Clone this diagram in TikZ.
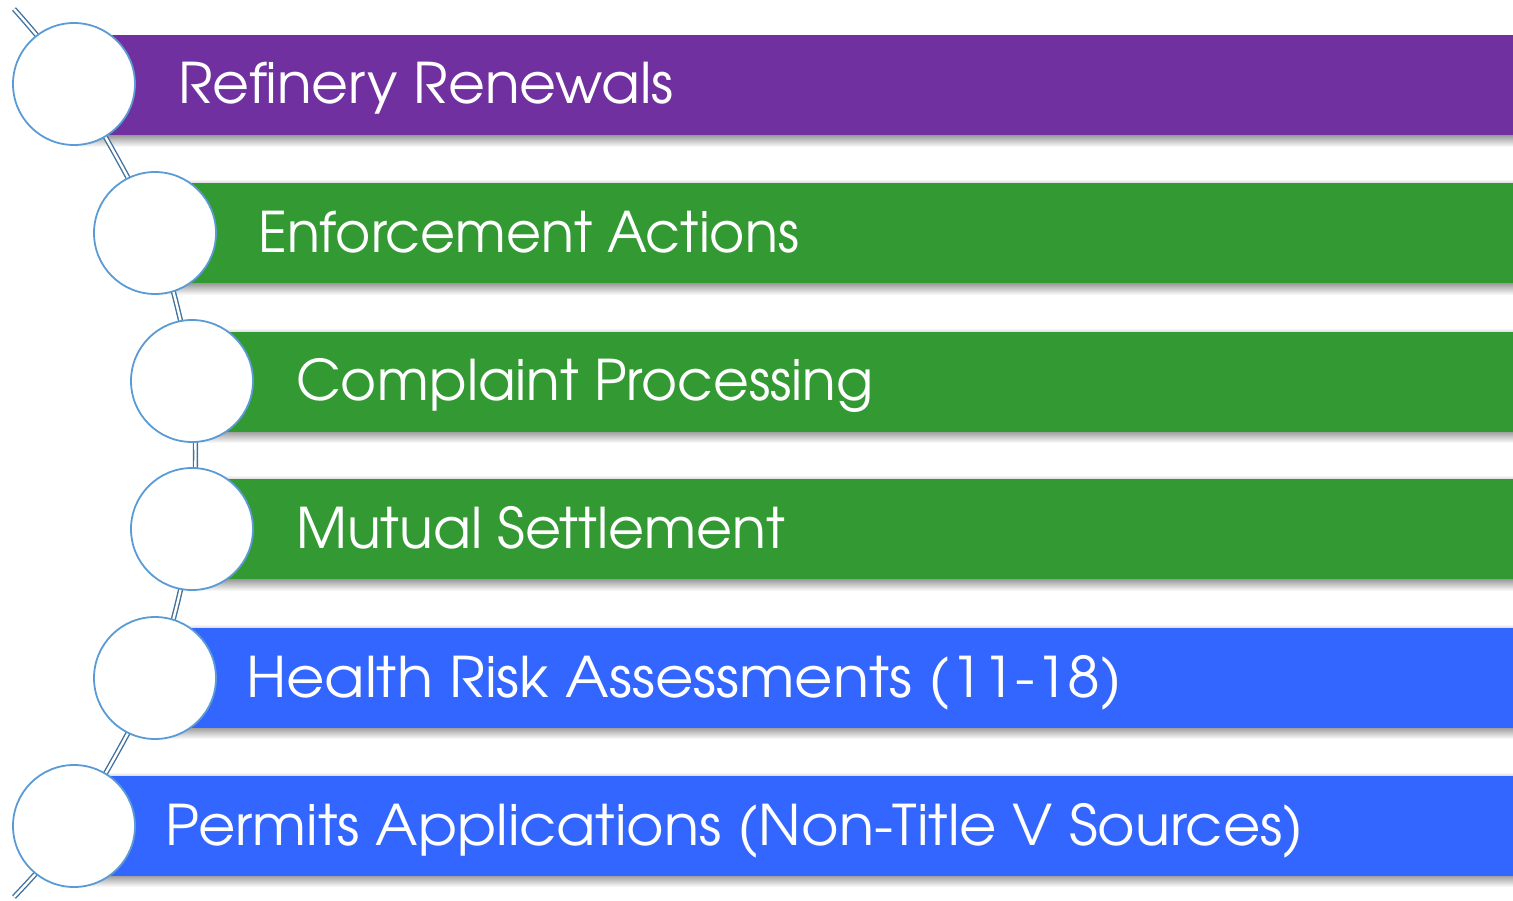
\documentclass[tikz,border=0pt]{standalone}
\usepackage{fontspec}
\setmainfont{texgyreadventor-regular.otf}
\usetikzlibrary{calc}
\definecolor{cpurple}{HTML}{7030A0}
\definecolor{cgreen}{HTML}{339933}
\definecolor{cblue}{HTML}{3366FF}
\definecolor{ccirc}{HTML}{5B9BD5}
\definecolor{cline}{HTML}{41719C}
\tikzset{
  bar/.style={rectangle, inner sep=0pt, minimum height=100pt, anchor=west, draw=none},
  dot/.style={circle, draw=ccirc, line width=1.8pt, fill=white, minimum size=122pt, inner sep=0pt},
  lbl/.style={anchor=base west, inner sep=0pt, text=white, font=\fontsize{56}{60}\selectfont},
  track/.style={draw=cline, line width=1.4pt, double=white, double distance=2.4pt},
}
\begin{document}
\begin{tikzpicture}[x=1pt,y=-1pt]
\useasboundingbox (0,0) rectangle (1513,900);
% shadows below bars
\foreach \xl/\yb in {74/135,155/283,192/431,192/579,155/727,74/875}{
  \shade[top color=black!40, bottom color=white] (\xl,\yb) rectangle (1513,\yb+12);
}
% faint shadows above bars
\foreach \xl/\yt in {155/183,192/332,192/479,155/628,74/776}{
  \shade[top color=white, bottom color=black!15] (\xl,\yt-4) rectangle (1513,\yt);
}
% bars
\node[bar, fill=cpurple, minimum width=1439pt] (b1) at (74,85) {};
\node[bar, fill=cgreen, minimum width=1358pt] (b2) at (155,233) {};
\node[bar, fill=cgreen, minimum width=1321pt] (b3) at (192,381.5) {};
\node[bar, fill=cgreen, minimum width=1321pt] (b4) at (192,529) {};
\node[bar, fill=cblue, minimum width=1358pt] (b5) at (155,677.5) {};
\node[bar, fill=cblue, minimum width=1439pt] (b6) at (74,825.5) {};
% track
\draw[track] plot[smooth, tension=0.45] coordinates {(14,9) (74,84) (155,233) (192,381) (192,529) (155,678) (74,826) (14,897)};
% circles
\node[dot] (c1) at (74,84) {};
\node[dot] (c2) at (155,233) {};
\node[dot] (c3) at (192,381) {};
\node[dot] (c4) at (192,529) {};
\node[dot] (c5) at (155,678) {};
\node[dot] (c6) at (74,826) {};
% labels
\node[lbl] (l1) at (178,103) {\scalebox{1.014}[1]{Refinery Renewals}};
\node[lbl] (l2) at (258,252) {\scalebox{0.962}[1]{Enforcement Actions}};
\node[lbl] (l3) at (296,400) {\scalebox{0.983}[1]{Complaint Processing}};
\node[lbl] (l4) at (296,548) {\scalebox{0.99}[1]{Mutual Settlement}};
\node[lbl] (l5) at (246,697) {\scalebox{1.054}[1]{Health Risk Assessments (11-18)}};
\node[lbl] (l6) at (165,845) {\scalebox{1.025}[1]{Permits Applications (Non-Title V Sources)}};
\end{tikzpicture}
\end{document}
